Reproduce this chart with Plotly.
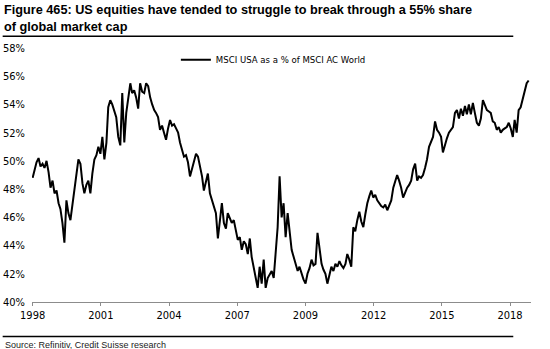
import pandas as pd
import plotly.graph_objects as go

# MSCI USA weight in MSCI AC World (%), monthly from Jan 1998
share_1998 = [48.8, 49.3, 49.9, 50.2, 49.6, 49.8, 49.5, 50.0, 49.2, 48.1, 48.6, 47.7]
share_1999 = [47.9, 47.0, 46.6, 45.6, 44.2, 47.2, 46.3, 45.8, 46.9, 47.9, 48.8, 50.1]
share_2000 = [49.8, 48.4, 47.7, 48.3, 48.6, 47.7, 49.1, 50.1, 50.4, 51.0, 50.5, 51.7]
share_2001 = [50.1, 51.3, 53.8, 54.3, 54.0, 53.6, 53.1, 51.7, 51.1, 54.8, 51.3, 53.4]
share_2002 = [54.5, 55.5, 54.8, 55.0, 54.5, 53.7, 55.5, 54.9, 54.8, 55.5, 55.3, 54.5]
share_2003 = [54.0, 53.6, 53.4, 53.1, 52.2, 52.5, 52.0, 51.5, 52.3, 52.9, 52.5, 52.6]
share_2004 = [52.3, 52.0, 51.3, 50.8, 50.3, 50.4, 49.9, 48.9, 49.5, 50.0, 50.5, 50.3]
share_2005 = [49.6, 48.9, 47.9, 48.6, 49.1, 47.7, 47.2, 46.7, 46.3, 44.5, 46.0, 47.0]
share_2006 = [45.6, 45.2, 46.3, 46.0, 45.6, 45.8, 45.1, 44.4, 44.6, 43.7, 44.3, 44.1]
share_2007 = [43.4, 44.5, 43.2, 42.5, 41.7, 41.0, 42.5, 41.3, 43.0, 41.0, 41.7, 42.0]
share_2008 = [42.2, 41.7, 43.2, 45.3, 48.9, 46.0, 47.0, 44.6, 46.3, 45.1, 43.7, 43.2]
share_2009 = [42.7, 42.2, 42.5, 42.0, 41.6, 41.3, 42.0, 42.4, 43.0, 42.6, 42.7, 44.9]
share_2010 = [43.8, 42.7, 42.3, 42.0, 41.3, 41.9, 42.5, 42.2, 42.7, 42.5, 42.9, 42.6]
share_2011 = [42.4, 42.7, 43.4, 43.0, 42.5, 45.3, 45.0, 45.8, 46.4, 45.7, 45.3, 46.2]
share_2012 = [47.0, 47.5, 47.9, 47.4, 47.6, 47.2, 47.0, 46.8, 46.7, 46.9, 46.5, 46.8]
share_2013 = [47.2, 48.1, 48.5, 49.0, 48.6, 48.1, 47.4, 47.8, 48.1, 48.3, 48.6, 49.4]
share_2014 = [49.8, 48.6, 48.9, 48.8, 49.0, 49.5, 50.1, 51.0, 51.4, 51.7, 52.8, 52.2]
share_2015 = [52.0, 51.7, 50.6, 51.2, 51.6, 52.0, 52.2, 52.4, 53.4, 53.6, 53.0, 53.7]
share_2016 = [53.2, 53.9, 53.3, 54.0, 53.3, 54.1, 53.4, 52.7, 52.5, 53.0, 54.3, 54.0]
share_2017 = [53.6, 53.5, 53.4, 52.8, 52.7, 52.2, 52.4, 52.0, 52.2, 52.3, 52.4, 52.7]
share_2018 = [52.3, 51.7, 52.9, 52.0, 53.6, 53.8, 54.3, 55.0, 55.5, 55.7]

share = (share_1998 + share_1999 + share_2000 + share_2001 + share_2002 + share_2003
         + share_2004 + share_2005 + share_2006 + share_2007 + share_2008 + share_2009
         + share_2010 + share_2011 + share_2012 + share_2013 + share_2014 + share_2015
         + share_2016 + share_2017 + share_2018)
dates = pd.date_range("1998-01-01", periods=len(share), freq="MS")

# x-axis labels, placed every 1042 days from the first observation
x_tick_labels = ["1998", "2001", "2004", "2007", "2009", "2012", "2015", "2018"]
tick_step_days = 1042
x_tick_vals = [pd.Timestamp("1998-01-01") + pd.Timedelta(days=tick_step_days * k)
               for k in range(len(x_tick_labels))]

y_tick_vals = [40, 42, 44, 46, 48, 50, 52, 54, 56, 58]
y_tick_labels = [f"{v}%" for v in y_tick_vals]

narrow = "DejaVu Sans Condensed, Liberation Sans Narrow, Arial Narrow, sans-serif"
bold = "Liberation Sans, Arial, sans-serif"

fig = go.Figure()
fig.add_trace(go.Scatter(
    x=dates, y=share, mode="lines",
    name="MSCI USA as a % of MSCI AC World",
    line=dict(color="#000000", width=2),
))

W, H = 550, 349
L, R, T, B = 32.3, 19.3, 48.3, 47.3
pw, ph = W - L - R, H - T - B


def px(x):
    return (x - L) / pw


def py(y):
    return (H - B - y) / ph


fig.update_layout(
    width=W, height=H,
    margin=dict(l=L, r=R, t=T, b=B, pad=0),
    paper_bgcolor="white", plot_bgcolor="white",
    showlegend=True,
    legend=dict(
        x=px(176), y=py(45.5), xanchor="left", yanchor="top",
        bgcolor="rgba(0,0,0,0)", borderwidth=0,
        font=dict(family=narrow, size=9.5, color="#000000"),
        itemwidth=30,
    ),
    xaxis=dict(
        type="date",
        range=[pd.Timestamp("1998-01-01") - pd.Timedelta(days=10), pd.Timestamp("2018-11-06")],
        tickvals=x_tick_vals, ticktext=x_tick_labels,
        showgrid=False, zeroline=False,
        showline=True, linecolor="#8c8c8c", linewidth=1,
        ticks="outside", ticklen=3, tickcolor="#8c8c8c",
        tickfont=dict(family=narrow, size=11, color="#000000"),
        automargin=False, fixedrange=True,
    ),
    yaxis=dict(
        range=[40, 58],
        tickvals=y_tick_vals, ticktext=y_tick_labels,
        showgrid=False, zeroline=False, showline=False,
        ticks="", ticklabelstandoff=6,
        tickfont=dict(family=narrow, size=11, color="#000000"),
        automargin=False, fixedrange=True,
    ),
    shapes=[
        dict(type="line", xref="paper", yref="paper",
             x0=px(3), x1=px(513), y0=py(36.7), y1=py(36.7),
             line=dict(color="#000000", width=1.5)),
        dict(type="line", xref="paper", yref="paper",
             x0=px(3), x1=px(513), y0=py(336), y1=py(336),
             line=dict(color="#000000", width=1.5)),
    ],
    annotations=[
        dict(text="<b>Figure 465: US equities have tended to struggle to break through a 55% share"
                  "<br>of global market cap</b>",
             xref="paper", yref="paper", x=px(2), y=py(1),
             xanchor="left", yanchor="top", align="left", showarrow=False,
             font=dict(family=bold, size=12.7, color="#000000")),
        dict(text="Source: Refinitiv, Credit Suisse research",
             xref="paper", yref="paper", x=px(3), y=py(345),
             xanchor="left", yanchor="middle", showarrow=False,
             font=dict(family=bold, size=9, color="#222222")),
    ],
)

fig.write_html("out.html")
